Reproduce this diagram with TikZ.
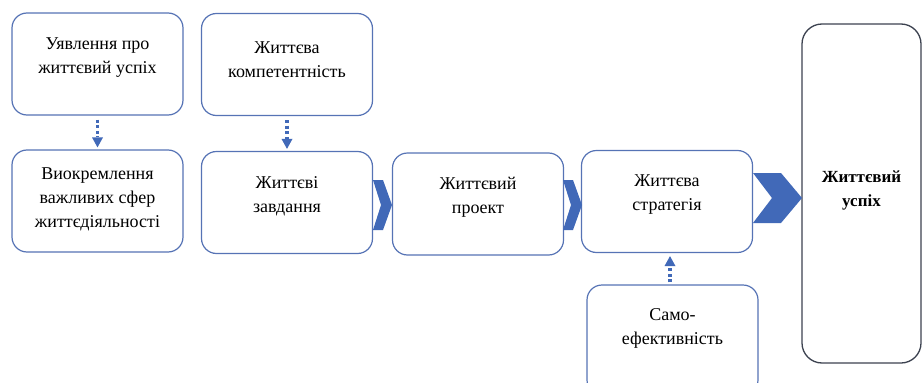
\documentclass[tikz,border=0pt]{standalone}
\usepackage{fontspec}
\setmainfont{Liberation Serif}
\usetikzlibrary{arrows.meta}
\definecolor{bord}{HTML}{5673B5}
\definecolor{chev}{HTML}{4169B8}
\definecolor{bigbord}{HTML}{3C4250}
\begin{document}
\begin{tikzpicture}[x=1pt,y=-1pt,
  box/.style={draw=bord,line width=1.2pt,rounded corners=15pt,fill=white,
    minimum width=171pt,minimum height=102pt,inner sep=0pt},
  txt/.style={align=center,inner sep=0pt,font=\fontsize{18}{24}\selectfont},
  chevfill/.style={fill=chev,draw=none},
  dotarrow/.style={draw=chev,line width=3.4pt,dash pattern=on 3pt off 2.6pt,
    -{Triangle[length=10pt,width=11pt,line width=0pt]}}
]
\useasboundingbox (0,0) rectangle (922,383);
\node[box] (A) at (97.5,64) {};
\node[txt] (At) at (97.5,58) {Уявлення про\\життєвий успіх};
\node[box] (B) at (287,64.5) {};
\node[txt] (Bt) at (287,59.5) {Життєва\\компетентність};
\node[box] (C) at (97.5,201) {};
\node[txt] (Ct) at (97.5,199.5) {Виокремлення\\важливих сфер\\життєдіяльності};
\node[box] (D) at (287,202.5) {};
\node[txt] (Dt) at (287,196.5) {Життєві\\завдання};
\node[box] (E) at (478,204) {};
\node[txt] (Et) at (478,197.5) {Життєвий\\проект};
\node[box] (F) at (667,201.5) {};
\node[txt] (Ft) at (667,194.5) {Життєва\\стратегія};
\node[box,minimum height=110pt] (G) at (672.5,340) {};
\node[txt] (Gt) at (672.5,328.5) {Само-\\ефективність};
\node[draw=bigbord,line width=1.3pt,rounded corners=20pt,fill=white,
  minimum width=119pt,minimum height=339pt] (H) at (861.5,193.5) {};
\node[txt,font=\bfseries\fontsize{17}{24}\selectfont] (Ht) at (861.5,190) {Життєвий\\успіх};
% chevrons
\fill[chevfill] (373,180) -- (383,180) -- (392,205) -- (383,230) -- (373,230) -- (381,205) -- cycle;
\fill[chevfill] (563,180) -- (573,180) -- (582,205) -- (573,230) -- (563,230) -- (571,205) -- cycle;
\fill[chevfill] (753,173) -- (781,173) -- (802,198) -- (781,223) -- (753,223) -- (772,198) -- cycle;
% dotted arrows
\draw[dotarrow] ([yshift=-4pt]A.south) -- ([yshift=2pt]C.north);
\draw[dotarrow] ([yshift=-4pt]B.south) -- ([yshift=2pt]D.north);
\draw[dotarrow] ([xshift=-2.5pt,yshift=2pt]G.north) -- ([xshift=3pt,yshift=-3pt]F.south);
\end{tikzpicture}
\end{document}
